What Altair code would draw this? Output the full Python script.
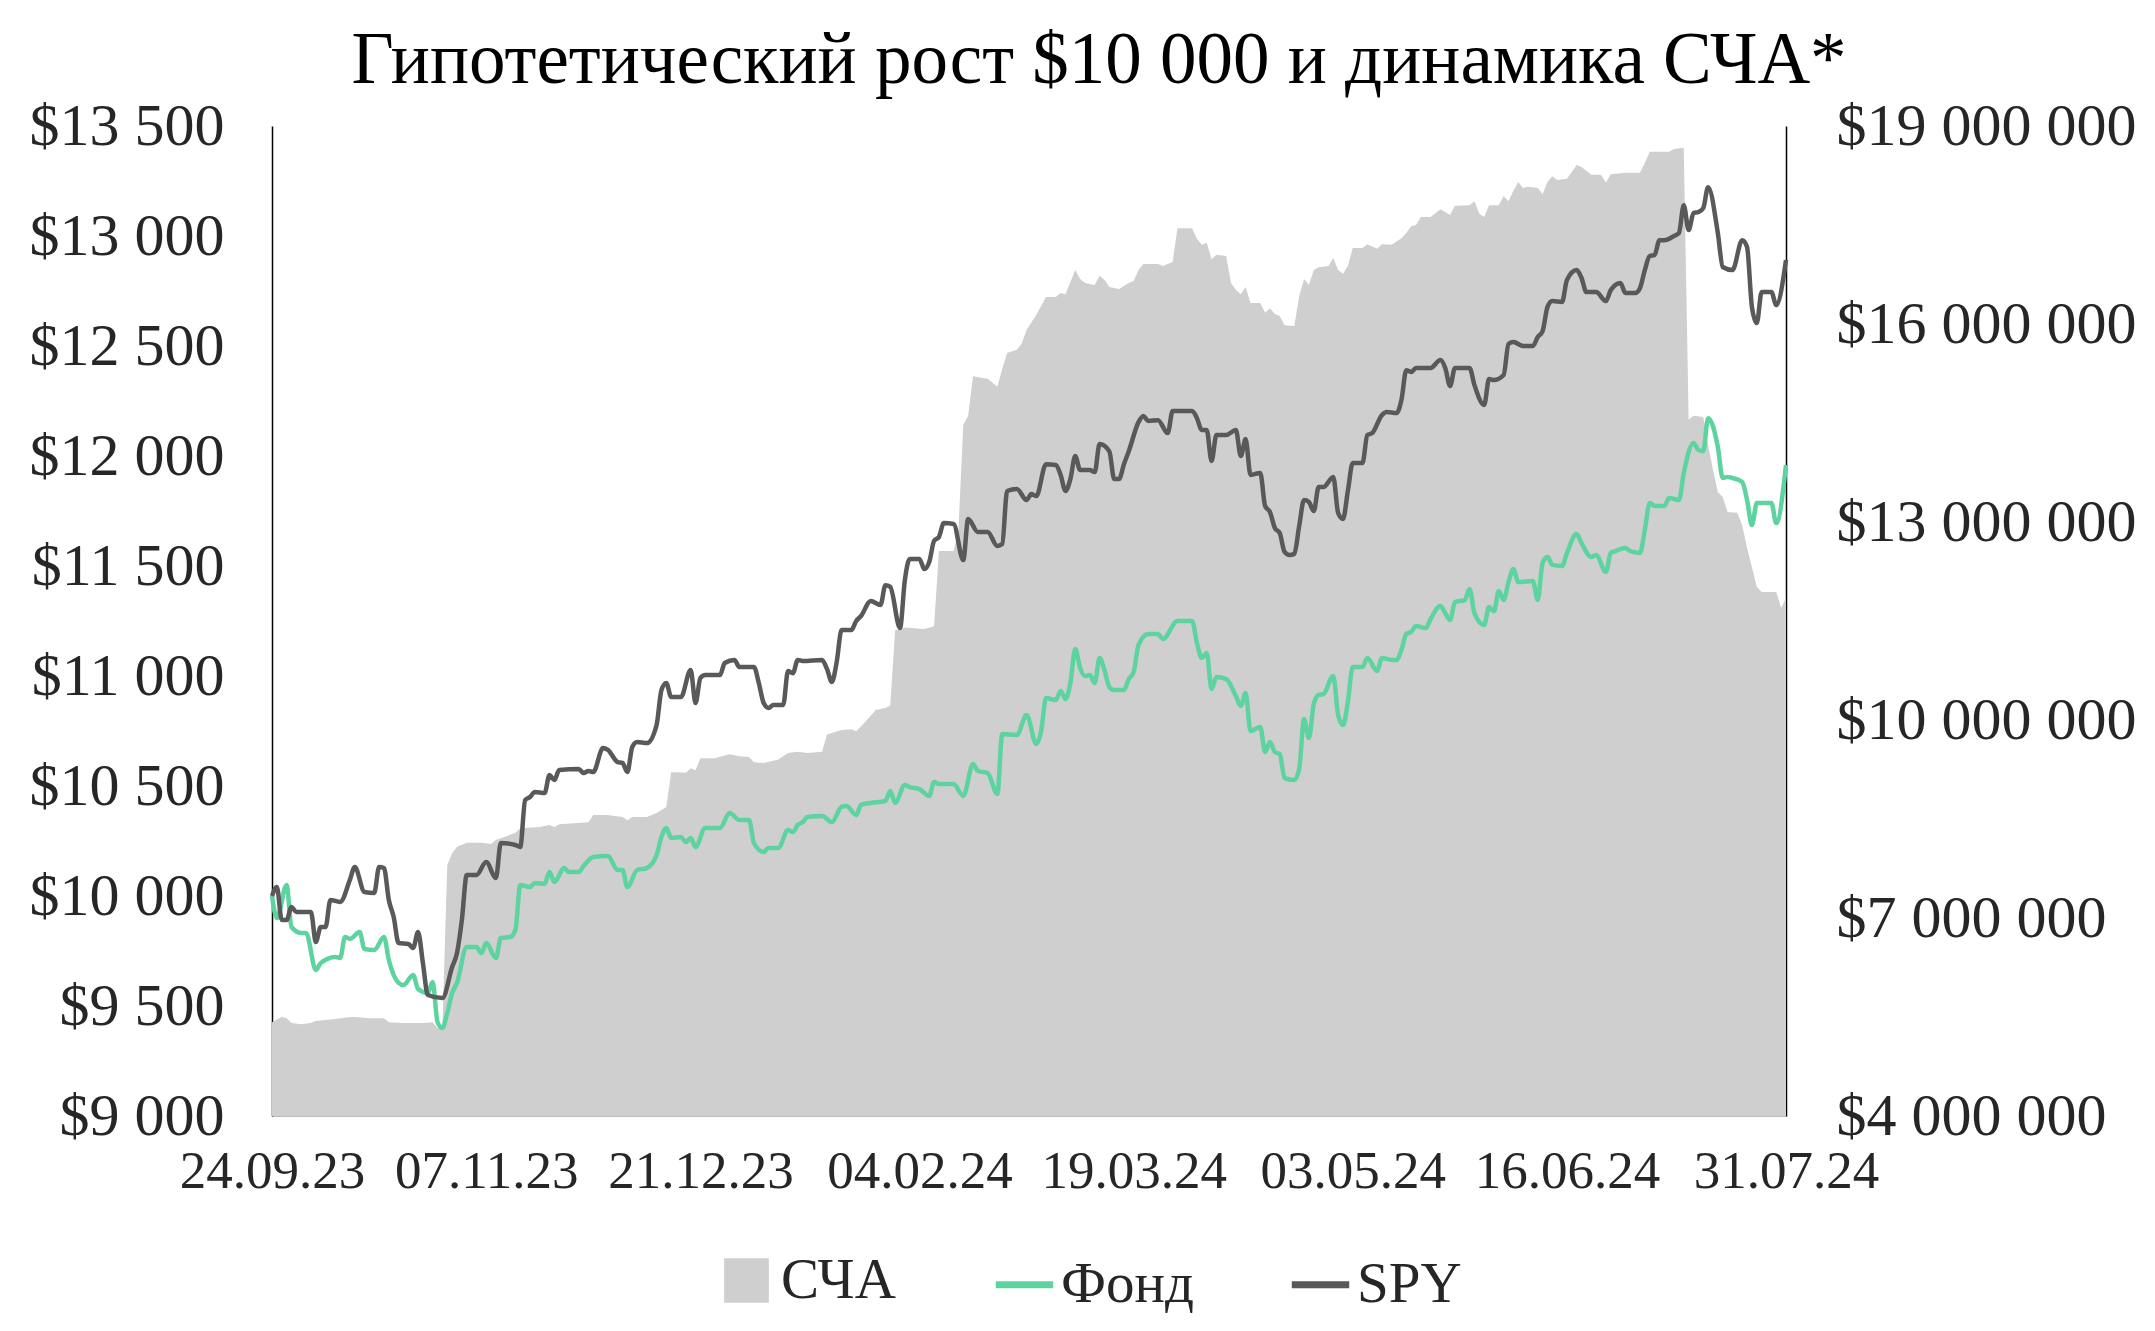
import altair as alt
import pandas as pd

START = "2023-09-24"

# ---- data (day offset from 24.09.2023, value) ----
SPY_DAYS = [0, 1, 2, 3, 4, 5, 8, 9, 10, 11, 12, 14, 16, 17, 19, 21, 22, 23, 24, 25, 26, 28, 29, 30, 31, 32, 35, 37, 38, 39,
            40, 42, 44, 46, 47, 50, 51, 52, 53, 54, 56, 57, 58, 59, 63, 64, 65, 66, 68, 69, 71, 72, 73, 74, 75, 77, 79, 80, 81, 82,
            84, 86, 87, 88, 89, 92, 93, 95, 96, 99, 100, 101, 102, 103, 105, 106, 107, 108, 109, 113, 114, 115, 116, 117, 119, 120, 121, 123, 125, 126,
            127, 129, 130, 131, 133, 134, 135, 136, 137, 138, 140, 142, 143, 145, 147, 149, 150, 151, 153, 155, 156, 157, 159, 161, 162, 163, 164, 165, 166, 168,
            169, 170, 172, 173, 174, 175, 176, 178, 179, 180, 182, 184, 185, 186, 189, 190, 191, 192, 193, 194, 196, 198, 199, 200, 201, 203, 204, 205, 206, 207,
            208, 209, 210, 211, 212, 213, 214, 215, 216, 218, 219, 220, 221, 222, 224, 225, 226, 228, 229, 231, 232, 233, 234, 235, 238, 240, 241, 242, 243, 246,
            247, 249, 250, 251, 253, 254, 255, 257, 259, 260, 261, 262, 263, 265, 266, 268, 269, 270, 272, 274, 275, 277, 278, 280, 281, 282, 283, 284, 285, 286,
            288, 289, 290, 291, 292, 293, 294, 295, 297, 298, 300, 302, 303, 304, 305, 306, 308, 309, 311]
SPY_VALUES = [10000, 10041, 9891, 9891, 9950, 9927, 9927, 9791, 9859, 9859, 9982, 9973, 10073, 10132, 10018, 10014, 10132, 10127, 9982, 9904, 9786, 9782, 9764, 9836, 9695, 9550, 9536, 9677, 9741, 9891,
              10095, 10095, 10154, 10082, 10241, 10232, 10223, 10436, 10450, 10473, 10468, 10550, 10527, 10573, 10577, 10559, 10568, 10564, 10673, 10664, 10609, 10605, 10564, 10677, 10700, 10695, 10777, 10936, 10968, 10904,
              10904, 11027, 10877, 10991, 11004, 11004, 11059, 11073, 11041, 11041, 10968, 10877, 10855, 10868, 10868, 11023, 11013, 11073, 11068, 11073, 11032, 10973, 11064, 11209, 11209, 11250, 11273, 11341, 11323, 11413,
              11405, 11218, 11436, 11532, 11532, 11486, 11518, 11614, 11632, 11695, 11691, 11527, 11714, 11655, 11655, 11591, 11600, 11841, 11850, 11800, 11827, 11818, 11963, 11959, 11914, 11841, 11895, 12000, 11936, 11936,
              11927, 12054, 12022, 11895, 11895, 11963, 12022, 12154, 12182, 12159, 12163, 12104, 12204, 12204, 12204, 12172, 12118, 12118, 11977, 12095, 12095, 12118, 12000, 12077, 11914, 11923, 11773, 11745, 11673, 11650,
              11564, 11550, 11555, 11682, 11800, 11791, 11750, 11859, 11859, 11905, 11741, 11714, 11841, 11968, 11968, 12095, 12104, 12186, 12200, 12195, 12254, 12390, 12382, 12400, 12400, 12436, 12400, 12318, 12400, 12400,
              12323, 12232, 12350, 12345, 12368, 12509, 12518, 12500, 12500, 12541, 12568, 12677, 12704, 12700, 12800, 12845, 12809, 12745, 12745, 12704, 12754, 12786, 12741, 12741, 12763, 12845, 12909, 12913, 12981, 12981,
              13000, 13013, 13140, 13027, 13104, 13109, 13127, 13222, 13013, 12859, 12845, 12981, 12950, 12677, 12604, 12745, 12745, 12686, 12891]

FUND_DAYS = [0, 1, 3, 4, 6, 7, 9, 10, 13, 14, 15, 16, 18, 19, 21, 23, 24, 26, 27, 29, 30, 32, 33, 34, 35, 36, 37, 38, 40, 42,
             43, 44, 46, 47, 49, 50, 51, 53, 54, 56, 57, 58, 60, 61, 63, 64, 66, 69, 71, 72, 73, 75, 77, 79, 80, 81, 82, 84, 85, 86,
             87, 89, 92, 94, 96, 98, 99, 101, 102, 104, 106, 107, 108, 109, 110, 113, 115, 117, 118, 120, 121, 123, 126, 127, 128, 130, 131, 133, 135, 136,
             137, 140, 142, 144, 145, 147, 149, 150, 153, 155, 157, 158, 159, 161, 162, 163, 164, 165, 166, 167, 168, 169, 170, 171, 172, 173, 175, 176, 177, 178,
             180, 182, 183, 186, 189, 190, 191, 192, 193, 194, 196, 198, 199, 200, 201, 203, 204, 205, 206, 207, 208, 210, 211, 212, 213, 214, 215, 216, 218, 219,
             220, 221, 222, 224, 225, 227, 228, 230, 231, 232, 233, 234, 235, 237, 238, 240, 241, 242, 243, 245, 246, 247, 249, 250, 251, 252, 253, 254, 255, 256,
             259, 260, 261, 262, 263, 265, 266, 268, 269, 271, 272, 274, 275, 276, 278, 279, 281, 282, 283, 284, 286, 287, 289, 290, 292, 293, 294, 295, 297, 298,
             299, 300, 302, 303, 304, 305, 308, 309, 311]
FUND_VALUES = [10000, 9900, 10050, 9859, 9832, 9832, 9664, 9695, 9723, 9718, 9814, 9805, 9836, 9759, 9755, 9814, 9709, 9605, 9595, 9641, 9577, 9559, 9609, 9427, 9400, 9468, 9559, 9605, 9768, 9768,
               9741, 9786, 9718, 9809, 9814, 9845, 10050, 10041, 10059, 10055, 10109, 10064, 10127, 10109, 10109, 10136, 10177, 10182, 10118, 10118, 10041, 10118, 10127, 10186, 10268, 10309, 10264, 10268, 10245, 10264,
               10223, 10309, 10309, 10377, 10345, 10345, 10241, 10200, 10218, 10218, 10300, 10291, 10323, 10336, 10359, 10364, 10336, 10405, 10409, 10368, 10414, 10423, 10432, 10477, 10423, 10505, 10495, 10486, 10455, 10518,
               10509, 10509, 10455, 10600, 10568, 10559, 10464, 10736, 10732, 10823, 10691, 10750, 10900, 10891, 10932, 10895, 10968, 11123, 11036, 11000, 11004, 10968, 11082, 11027, 10950, 10936, 10936, 10986, 11018, 11141,
               11191, 11191, 11168, 11250, 11250, 11150, 11082, 11104, 10941, 10995, 10986, 10909, 10864, 10923, 10750, 10768, 10654, 10700, 10654, 10645, 10536, 10527, 10577, 10804, 10718, 10873, 10914, 10918, 11000, 10823,
               10777, 10882, 11041, 11041, 11082, 11023, 11082, 11073, 11073, 11118, 11191, 11200, 11227, 11218, 11259, 11318, 11286, 11254, 11336, 11345, 11395, 11286, 11232, 11314, 11295, 11386, 11345, 11427, 11486, 11427,
               11432, 11345, 11514, 11541, 11505, 11500, 11559, 11645, 11604, 11541, 11550, 11473, 11559, 11568, 11582, 11568, 11559, 11664, 11786, 11773, 11773, 11809, 11800, 11923, 12059, 12027, 12022, 12172, 12041, 11900,
               11905, 11900, 11882, 11800, 11686, 11786, 11786, 11695, 11959]

NAV_DAYS = [0, 2, 3, 4, 6, 8, 9, 13, 16, 17, 20, 23, 24, 27, 29, 31, 33, 34, 35, 36, 37, 38, 40, 43, 45, 46, 50, 51, 55, 57,
            58, 59, 65, 66, 69, 72, 73, 74, 77, 79, 81, 82, 83, 85, 86, 87, 88, 91, 94, 96, 98, 99, 101, 104, 106, 108, 110, 113, 114, 117,
            119, 120, 121, 124, 126, 127, 128, 130, 134, 136, 137, 140, 141, 142, 143, 144, 146, 147, 149, 150, 151, 153, 154, 155, 157, 159, 161, 162, 163, 165,
            166, 167, 169, 170, 171, 172, 174, 176, 177, 178, 179, 182, 183, 185, 186, 189, 190, 191, 192, 193, 194, 196, 197, 198, 199, 200, 201, 203, 204, 205,
            206, 207, 208, 210, 211, 212, 213, 214, 215, 217, 218, 219, 220, 221, 222, 224, 225, 227, 228, 230, 232, 233, 234, 235, 236, 238, 240, 242, 243, 246,
            247, 248, 249, 250, 252, 253, 254, 255, 256, 257, 258, 260, 261, 262, 263, 264, 266, 268, 269, 271, 273, 274, 275, 278, 281, 282, 283, 287, 288, 290,
            291, 292, 294, 295, 296, 297, 298, 299, 301, 302, 303, 305, 306, 309, 310, 311]
NAV_MLN = [5.42, 5.50, 5.48, 5.41, 5.39, 5.41, 5.44, 5.47, 5.50, 5.50, 5.48, 5.48, 5.42, 5.41, 5.41, 5.41, 5.42, 5.33, 5.33, 7.80, 7.98, 8.08, 8.14, 8.14, 8.12, 8.18, 8.29, 8.36, 8.38, 8.41,
           8.38, 8.42, 8.45, 8.56, 8.56, 8.53, 8.48, 8.53, 8.53, 8.59, 8.68, 9.21, 9.21, 9.20, 9.27, 9.24, 9.42, 9.42, 9.48, 9.45, 9.44, 9.36, 9.35, 9.40, 9.50, 9.52, 9.50, 9.52, 9.78, 9.85,
           9.86, 9.83, 9.90, 10.15, 10.18, 10.22, 11.36, 11.40, 11.38, 11.42, 12.56, 12.56, 12.88, 14.47, 14.61, 15.21, 15.18, 15.17, 15.05, 15.32, 15.56, 15.61, 15.70, 15.91, 16.14, 16.41, 16.41, 16.47, 16.45, 16.82,
           16.68, 16.62, 16.59, 16.73, 16.67, 16.56, 16.53, 16.62, 16.65, 16.82, 16.91, 16.91, 16.88, 16.94, 17.45, 17.45, 17.29, 17.20, 17.23, 16.98, 17.05, 17.03, 16.62, 16.52, 16.45, 16.56, 16.32, 16.32, 16.17, 16.24,
           16.15, 16.12, 15.98, 15.97, 16.42, 16.68, 16.59, 16.82, 16.86, 16.88, 17.00, 16.82, 16.76, 16.88, 17.15, 17.15, 17.21, 17.14, 17.21, 17.20, 17.30, 17.38, 17.48, 17.50, 17.62, 17.62, 17.74, 17.65, 17.79, 17.80,
           17.86, 17.67, 17.62, 17.80, 17.80, 17.94, 17.86, 18.02, 18.15, 18.06, 18.08, 18.06, 17.97, 18.15, 18.24, 18.18, 18.20, 18.41, 18.38, 18.26, 18.26, 18.14, 18.27, 18.29, 18.29, 18.44, 18.61, 18.61, 18.65, 18.67,
           14.55, 14.61, 14.59, 14.17, 13.79, 13.45, 13.38, 13.15, 13.14, 12.95, 12.61, 12.02, 11.94, 11.94, 11.70, 11.85]

SERIES_NAMES = ["СЧА", "Фонд", "SPY"]
TITLE = "Гипотетический рост $10 000 и динамика СЧА*"
LEFT_TICKS = [9000, 9500, 10000, 10500, 11000, 11500, 12000, 12500, 13000, 13500]
RIGHT_TICKS = [4, 7, 10, 13, 16, 19]
X_TICKS = [(2023, 9, 24), (2023, 11, 7), (2023, 12, 21), (2024, 2, 4), (2024, 3, 19), (2024, 5, 3), (2024, 6, 16), (2024, 7, 31)]

GRAY = "#d0cfcf"
GREEN = "#5dd3a0"
DARK = "#595959"
FONT = "Liberation Serif"
TEXT = "#262626"


def to_dates(days):
    return pd.Timestamp(START) + pd.to_timedelta(days, unit="D")


nav_df = pd.DataFrame({"date": to_dates(NAV_DAYS), "nav": NAV_MLN, "series": SERIES_NAMES[0]})
fund_df = pd.DataFrame({"date": to_dates(FUND_DAYS), "value": FUND_VALUES, "series": SERIES_NAMES[1]})
spy_df = pd.DataFrame({"date": to_dates(SPY_DAYS), "value": SPY_VALUES, "series": SERIES_NAMES[2]})
lines_df = pd.concat([fund_df, spy_df], ignore_index=True)

x_dom = [alt.DateTime(year=2023, month=9, date=24), alt.DateTime(year=2024, month=7, date=31)]
x_vals = [alt.DateTime(year=y, month=m, date=d) for (y, m, d) in X_TICKS]

x_axis = alt.Axis(values=x_vals, format="%d.%m.%y", title=None, grid=False, ticks=False, tickSize=0,
                  domain=True, domainColor="#bdbdbd", domainWidth=1, labelFontSize=53, labelPadding=29,
                  labelOverlap=False, labelFlush=False, labelLimit=0, labelColor=TEXT, labelFont=FONT)
x_enc = alt.X("date:T", scale=alt.Scale(domain=x_dom), axis=x_axis)

area = alt.Chart(nav_df).mark_area(clip=True, interpolate="linear").encode(
    x=x_enc,
    y=alt.Y("nav:Q", scale=alt.Scale(domain=[4, 19], zero=False, nice=False),
            axis=alt.Axis(orient="right", values=RIGHT_TICKS, title=None, grid=False, ticks=False, tickSize=0,
                          domainColor="black", domainWidth=1.5, labelPadding=50, labelFontSize=60,
                          labelLimit=0, labelColor=TEXT, labelFont=FONT,
                          labelExpr="'$' + datum.value + ' 000 000'")),
    fill=alt.Fill("series:N", scale=alt.Scale(domain=[SERIES_NAMES[0]], range=[GRAY]),
                  legend=alt.Legend(title=None, orient="none", legendX=446, legendY=1126,
                                    symbolType="square", symbolSize=2000, symbolStrokeWidth=0,
                                    labelFontSize=57, labelFont=FONT, labelColor=TEXT, labelOffset=6,
                                    labelLimit=0)),
)

lines = alt.Chart(lines_df).mark_line(strokeWidth=4.5, interpolate="monotone").encode(
    x=x_enc,
    y=alt.Y("value:Q", scale=alt.Scale(domain=[9000, 13500], zero=False, nice=False),
            axis=alt.Axis(orient="left", values=LEFT_TICKS, title=None, grid=False, ticks=False, tickSize=0,
                          domainColor="black", domainWidth=1.5, labelPadding=48, labelFontSize=60,
                          labelLimit=0, labelColor=TEXT, labelFont=FONT,
                          labelExpr="'$' + replace(format(datum.value, ','), ',', ' ')")),
    stroke=alt.Stroke("series:N", scale=alt.Scale(domain=SERIES_NAMES[1:], range=[GREEN, DARK]),
                      legend=alt.Legend(title=None, orient="none", legendX=720, legendY=1126, direction="horizontal",
                                        symbolType="stroke", symbolSize=3300, symbolStrokeWidth=7,
                                        columnPadding=82, labelFontSize=57, labelFont=FONT,
                                        labelColor=TEXT, labelOffset=4, labelLimit=0)),
    detail="series:N",
)

chart = alt.layer(area, lines).resolve_scale(y="independent").properties(
    width=1514,
    height=990,
    autosize="none",
    padding={"left": 264, "top": 118, "right": 361, "bottom": 207},
    title=alt.TitleParams(TITLE, font=FONT, fontSize=73, fontWeight="normal", color="black",
                          anchor="middle", dx=70, offset=-2),
).configure(font=FONT, view=alt.ViewConfig(stroke=None))

chart.save("out.html", embed_options={"renderer": "svg", "actions": False})
